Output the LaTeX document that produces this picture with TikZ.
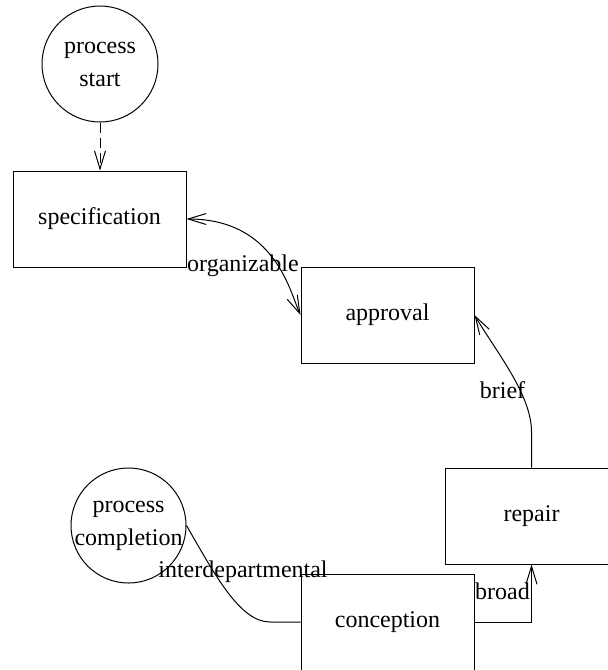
\documentclass[tikz,border=0pt]{standalone}
\usepackage{fontspec}
\setmainfont{Liberation Serif}
\usetikzlibrary{arrows.meta}
\begin{document}
\begin{tikzpicture}[x=0.5pt,y=-0.5pt,line width=0.5pt,
  font=\fontsize{12}{16.5}\selectfont,
  box/.style={draw, rectangle, minimum width=86.5pt, minimum height=48pt, inner sep=0pt},
  term/.style={draw, circle, minimum size=58pt, inner sep=0pt},
  tip/.tip={Straight Barb[length=9pt,width=5.5pt]},
  conn/.style={-tip},
  lbl/.style={inner sep=0pt}]
\useasboundingbox (0,0) rectangle (608,670);
\clip (0,0) rectangle (608,670);
% nodes
\node[term] (start) at (100,64) {};
\node[align=center] (startt) at (start) {process\\start};
\node[box] (spec) at (99.5,219) {specification};
\node[box] (appr) at (387.5,315) {approval};
\node[box] (rep) at (531.5,516) {repair};
\node[box] (conc) at (387.5,622) {conception};
\node[term, minimum size=57.5pt] (comp) at (128.5,525.5) {};
\node[align=center] (compt) at (comp) {process\\completion};
% connectors
\draw[conn, dash pattern=on 5pt off 2.5pt] (start.south) -- (start.south |- spec.north);
\draw[tip-tip] (spec.east) .. controls (275,219) and (290,292) .. (appr.west);
\node[lbl] (l1) at (243,266) {organizable};
\draw[conn] (rep.north) -- ++(0,-36) .. controls ++(0,-37) and (495,350) .. (appr.east);
\node[lbl] (l2) at (502.5,390) {brief};
\draw[conn] (conc.east) -| (rep.south);
\node[lbl] (l3) at (502.5,591) {broad};
\draw (comp.east) .. controls (215,575) and (240,622) .. (270,622) -- (conc.west);
\node[lbl] (l4) at (243,572) {interdepartmental};
\end{tikzpicture}
\end{document}
